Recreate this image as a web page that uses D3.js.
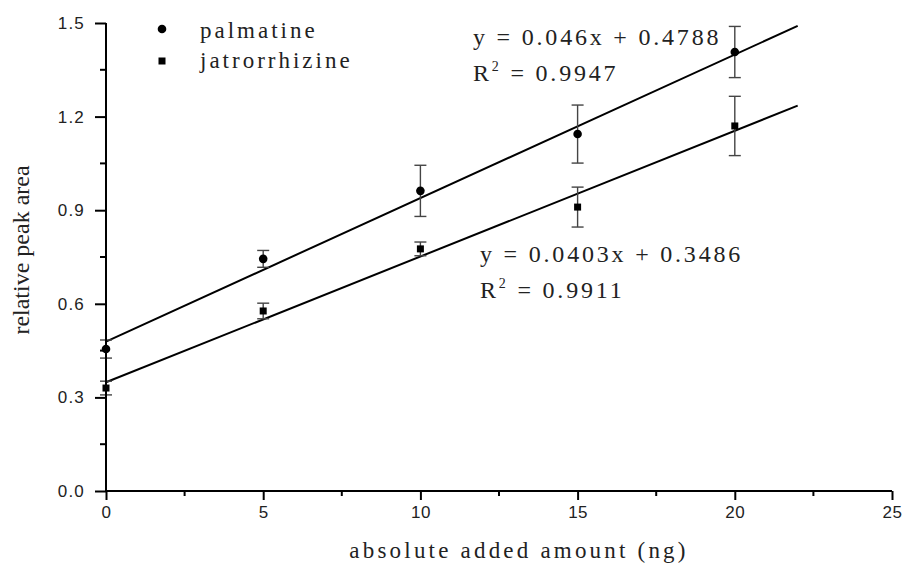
<!DOCTYPE html>
<html>
<head>
<meta charset="utf-8">
<script src="https://cdn.jsdelivr.net/npm/d3@7"></script>
<style>
body { margin: 0; background: #fff; }
</style>
</head>
<body>
<div id="canvas"></div>
<script>
"use strict"

/* Data */
let amounts = [0, 5, 10, 15, 20];
let palmatine = [0.455, 0.744, 0.962, 1.144, 1.407];
let palmatineErr = [0.029, 0.027, 0.082, 0.093, 0.082];
let jatrorrhizine = [0.330, 0.577, 0.776, 0.910, 1.170];
let jatrorrhizineErr = [0.022, 0.025, 0.022, 0.064, 0.095];

/* Linear fits as printed on the chart */
let fitSlopes = [0.046, 0.0403];
let fitIntercepts = [0.4788, 0.3486];
let fitEquations = ["y = 0.046x + 0.4788", "y = 0.0403x + 0.3486"];
let fitR2 = ["0.9947", "0.9911"];
let fitEnd = 22;

let seriesNames = ["palmatine", "jatrorrhizine"];
let xTicks = [0, 5, 10, 15, 20, 25];
let xMinorTicks = [2.5, 7.5, 12.5, 17.5, 22.5];
let yTicks = [0.0, 0.3, 0.6, 0.9, 1.2, 1.5];
let yMinorTicks = [0.15, 0.45, 0.75, 1.05, 1.35];

/* Drawing configuration */
let svgWidth = 906;
let svgHeight = 563;
let plotLeft = 106, plotRight = 892, plotTop = 23, plotBottom = 491;
let serif = "'Liberation Serif', 'Times New Roman', serif";
let sans = "'Liberation Sans', Arial, sans-serif";

let svg = d3.select("#canvas")
    .append("svg")
    .attr("width", svgWidth)
    .attr("height", svgHeight);

let xScale = d3.scaleLinear()
    .domain([0, 25])
    .range([plotLeft, plotRight]);

let yScale = d3.scaleLinear()
    .domain([0, 1.5])
    .range([plotBottom, plotTop]);

/* Regression lines */
for (let i = 0; i < 2; i++) {
    svg.append("line")
        .attr("x1", xScale(0))
        .attr("y1", yScale(fitIntercepts[i]))
        .attr("x2", xScale(fitEnd))
        .attr("y2", yScale(fitIntercepts[i] + fitSlopes[i] * fitEnd))
        .attr("stroke", "black")
        .attr("stroke-width", 2);
}

/* Error bars */
function errorBars(values, errs) {
    let g = svg.append("g")
        .attr("stroke", "#444")
        .attr("stroke-width", 1.4);
    amounts.forEach(function (a, i) {
        let x = xScale(a);
        let y1 = yScale(values[i] + errs[i]);
        let y2 = yScale(values[i] - errs[i]);
        g.append("line").attr("x1", x).attr("x2", x).attr("y1", y1).attr("y2", y2);
        g.append("line").attr("x1", x - 6).attr("x2", x + 6).attr("y1", y1).attr("y2", y1);
        g.append("line").attr("x1", x - 6).attr("x2", x + 6).attr("y1", y2).attr("y2", y2);
    });
}
errorBars(palmatine, palmatineErr);
errorBars(jatrorrhizine, jatrorrhizineErr);

/* Points */
svg.append("g")
    .selectAll("circle")
    .data(amounts)
    .join("circle")
    .attr("cx", function (d) { return xScale(d); })
    .attr("cy", function (d, i) { return yScale(palmatine[i]); })
    .attr("r", 4.3)
    .attr("fill", "black");

svg.append("g")
    .selectAll("rect")
    .data(amounts)
    .join("rect")
    .attr("x", function (d) { return xScale(d) - 3.5; })
    .attr("y", function (d, i) { return yScale(jatrorrhizine[i]) - 3.5; })
    .attr("width", 7)
    .attr("height", 7)
    .attr("fill", "black");

/* Axes */
let xAxis = svg.append("g")
    .attr("transform", "translate(0," + plotBottom + ")")
    .call(d3.axisBottom(xScale).tickValues(xTicks).tickSize(9).tickPadding(6).tickFormat(d3.format("d")));
xAxis.select(".domain").attr("stroke-width", 2).attr("d", "M" + plotLeft + ",0H" + plotRight);
xAxis.selectAll(".tick line").attr("stroke-width", 2);
xAxis.selectAll(".tick text")
    .attr("font-family", sans)
    .attr("font-size", 17)
    .attr("letter-spacing", 0.5)
    .attr("fill", "#222");
xAxis.selectAll(".minor")
    .data(xMinorTicks)
    .join("line")
    .attr("class", "minor")
    .attr("x1", function (d) { return xScale(d); })
    .attr("x2", function (d) { return xScale(d); })
    .attr("y1", 0)
    .attr("y2", 5)
    .attr("stroke", "black")
    .attr("stroke-width", 2);

let yAxis = svg.append("g")
    .attr("transform", "translate(" + plotLeft + ",0)")
    .call(d3.axisLeft(yScale).tickValues(yTicks).tickSize(11).tickPadding(10).tickFormat(d3.format(".1f")));
yAxis.select(".domain").attr("stroke-width", 2).attr("d", "M0," + plotTop + "V" + plotBottom);
yAxis.selectAll(".tick line").attr("stroke-width", 2);
yAxis.selectAll(".tick text")
    .attr("font-family", sans)
    .attr("font-size", 17)
    .attr("letter-spacing", 1.2)
    .attr("fill", "#222");
yAxis.selectAll(".minor")
    .data(yMinorTicks)
    .join("line")
    .attr("class", "minor")
    .attr("y1", function (d) { return yScale(d); })
    .attr("y2", function (d) { return yScale(d); })
    .attr("x1", 0)
    .attr("x2", -6)
    .attr("stroke", "black")
    .attr("stroke-width", 2);

/* Axis titles */
svg.append("text")
    .attr("x", 519)
    .attr("y", 558)
    .attr("text-anchor", "middle")
    .attr("font-family", serif)
    .attr("font-size", 23)
    .attr("letter-spacing", 3.2)
    .attr("fill", "#222")
    .text("absolute added amount (ng)");

svg.append("text")
    .attr("transform", "translate(29,250) rotate(-90)")
    .attr("text-anchor", "middle")
    .attr("font-family", serif)
    .attr("font-size", 24)
    .attr("fill", "#222")
    .text("relative peak area");

/* Legend */
let legendY = [31, 61];
svg.append("circle")
    .attr("cx", 162).attr("cy", legendY[0] - 2)
    .attr("r", 4.3).attr("fill", "black");
svg.append("rect")
    .attr("x", 158.5).attr("y", legendY[1] - 3.5)
    .attr("width", 7).attr("height", 7).attr("fill", "black");
for (let i = 0; i < 2; i++) {
    svg.append("text")
        .attr("x", 200)
        .attr("y", legendY[i] + 7)
        .attr("font-family", serif)
        .attr("font-size", 23)
        .attr("letter-spacing", 3)
        .attr("fill", "#222")
        .text(seriesNames[i]);
}

/* Fit equations */
let eqX = [473, 480];
let eqY = [45, 262];
for (let i = 0; i < 2; i++) {
    svg.append("text")
        .attr("x", eqX[i])
        .attr("y", eqY[i])
        .attr("font-family", serif)
        .attr("font-size", 24)
        .attr("letter-spacing", 2.8)
        .attr("fill", "#222")
        .text(fitEquations[i]);
    let r = svg.append("text")
        .attr("x", eqX[i])
        .attr("y", eqY[i] + 36)
        .attr("font-family", serif)
        .attr("font-size", 24)
        .attr("letter-spacing", 2.8)
        .attr("fill", "#222");
    r.append("tspan").text("R");
    r.append("tspan").attr("font-size", 14).attr("dy", -10).text("2");
    r.append("tspan").attr("dy", 10).text(" = " + fitR2[i]);
}
</script>
</body>
</html>
